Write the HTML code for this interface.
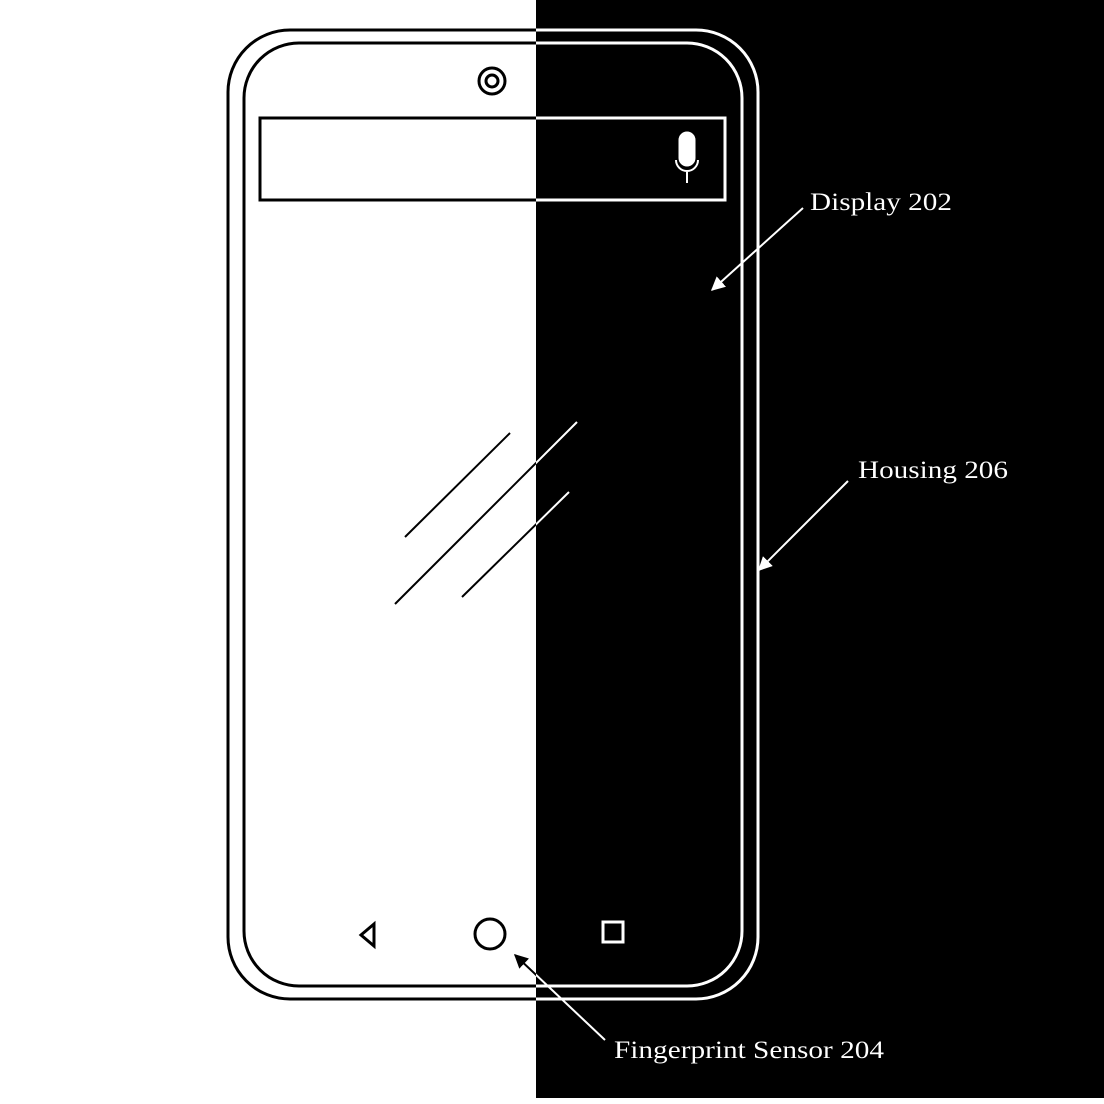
<!DOCTYPE html>
<html><head><style>
html,body{margin:0;padding:0;background:#fff;}
#w{position:relative;width:1104px;height:1104px;overflow:hidden;}
svg{position:absolute;left:0;top:0;}
#inv{position:absolute;left:536px;top:0;width:568px;height:1098px;background:#fff;mix-blend-mode:difference;}
text{font-family:"Liberation Serif",serif;font-size:25px;fill:#000;}
</style></head><body><div id="w">
<svg width="1104" height="1104" viewBox="0 0 1104 1104">
<defs><marker id="a" viewBox="0 0 10 10" refX="9" refY="5" markerWidth="7" markerHeight="7" orient="auto"><path d="M0,0L10,5L0,10z" fill="#000"/></marker></defs>
<g fill="none" stroke="#000" stroke-width="3">
<rect x="228" y="30" width="530" height="969" rx="62"/>
<rect x="244" y="43" width="498" height="943" rx="55"/>
<rect x="260" y="118" width="465" height="82"/>
<circle cx="492" cy="81" r="13"/><circle cx="492" cy="81" r="6"/>
<circle cx="490" cy="934" r="15"/>
<path d="M374,924L361,935L374,946Z"/>
<rect x="603" y="922" width="20" height="20"/>
<path d="M680,140 a7,7 0 0 1 14,0 v18 a7,7 0 0 1 -14,0z" fill="#000"/>
<path d="M676,160 a11,11 0 0 0 22,0 M687,171v12" stroke-width="2"/>
</g>
<g stroke="#000" stroke-width="2">
<line x1="405" y1="537" x2="510" y2="433"/>
<line x1="395" y1="604" x2="577" y2="422"/>
<line x1="462" y1="597" x2="569" y2="492"/>
<line x1="803" y1="208" x2="712" y2="290" marker-end="url(#a)"/>
<line x1="848" y1="481" x2="759" y2="570" marker-end="url(#a)"/>
<line x1="605" y1="1040" x2="515" y2="955" marker-end="url(#a)"/>
</g>
<text x="810" y="210" textLength="142" lengthAdjust="spacingAndGlyphs">Display 202</text>
<text x="858" y="478" textLength="150" lengthAdjust="spacingAndGlyphs">Housing 206</text>
<text x="614" y="1058" textLength="270" lengthAdjust="spacingAndGlyphs">Fingerprint Sensor 204</text>
</svg>
<div id="inv"></div>
</div></body></html>
